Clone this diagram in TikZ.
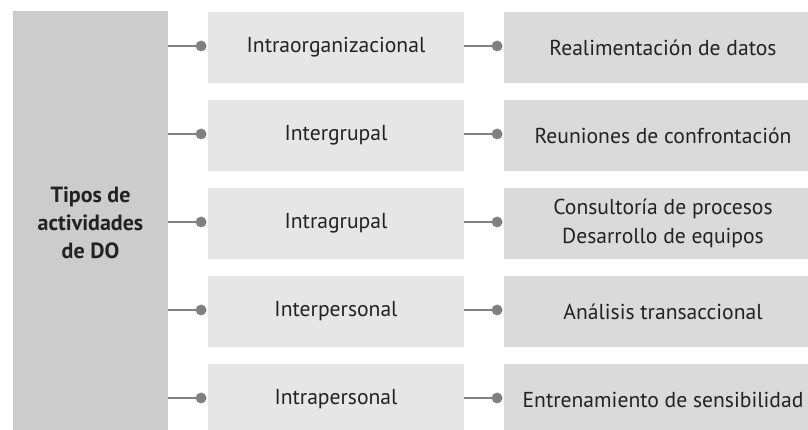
\documentclass[tikz,border=0pt]{standalone}
\usepackage{fontspec}
\setmainfont{PT Sans}
\usetikzlibrary{arrows.meta}
\definecolor{leftgray}{HTML}{CCCCCC}
\definecolor{midgray}{HTML}{E6E6E6}
\definecolor{rightgray}{HTML}{DADADA}
\definecolor{conngray}{HTML}{808080}
\definecolor{txt}{HTML}{222222}
\tikzset{
  base/.style={inner sep=0pt, outer sep=0pt, text=txt, align=center,
    font=\fontsize{21.6}{29}\selectfont},
  leftbox/.style={base, fill=leftgray, minimum width=155pt, minimum height=424pt,
    font=\bfseries\fontsize{22}{28}\selectfont},
  midbox/.style={base, fill=midgray, minimum width=256pt, minimum height=71pt},
  rightbox/.style={base, fill=rightgray, minimum width=318pt, minimum height=71pt},
  conn/.style={draw=conngray, line width=2.6pt, shorten >=1.6pt,
    -{Circle[length=10.6pt, width=10.6pt]}}
}
\begin{document}
\begin{tikzpicture}[x=1pt,y=-1pt]
\useasboundingbox (0,0) rectangle (808,429);
\clip (0,0) rectangle (808,429);
\node[leftbox] (L) at (90.5,223) {Tipos de\\actividades\\de DO};
\node[midbox] (M1) at (336,47.5) {Intraorganizacional};
\node[midbox] (M2) at (336,135.5) {Intergrupal};
\node[midbox] (M3) at (336,223.5) {Intragrupal};
\node[midbox] (M4) at (336,311.5) {Interpersonal};
\node[midbox] (M5) at (336,399.5) {Intrapersonal};
\node[rightbox] (R1) at (663,47.5) {Realimentación de datos};
\node[rightbox] (R2) at (663,135.5) {Reuniones de confrontación};
\node[rightbox] (R3) at (663,223.5) {Consultoría de procesos\\Desarrollo de equipos};
\node[rightbox] (R4) at (663,311.5) {Análisis transaccional};
\node[rightbox] (R5) at (663,399.5) {Entrenamiento de sensibilidad};
\foreach \i in {1,...,5}{
  \draw[conn] ([yshift=1.5pt]L.east |- M\i.west) -- ([yshift=1.5pt]M\i.west);
  \draw[conn] ([yshift=1.5pt]M\i.east) -- ([yshift=1.5pt]R\i.west);
}
\end{tikzpicture}
\end{document}
